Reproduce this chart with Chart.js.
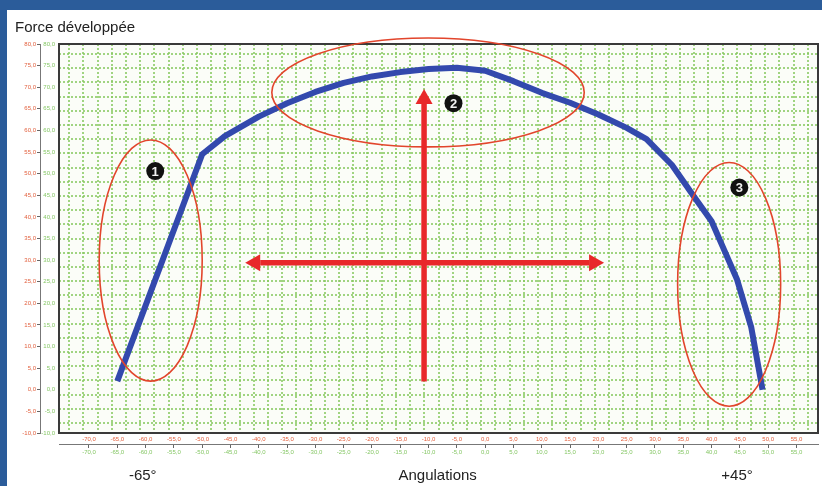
<!DOCTYPE html>
<html><head><meta charset="utf-8">
<script src="https://cdn.jsdelivr.net/npm/chart.js@4/dist/chart.umd.min.js"></script>
<style>html,body{margin:0;padding:0;background:#fff;overflow:hidden}canvas{display:block}</style>
</head><body>
<canvas id="c" width="822" height="486" style="width:822px;height:486px"></canvas>
<script>
// ---- data ----
const angles = [-65, -50, -46, -40, -35, -30, -25, -20, -15, -10, -5, 0, 5, 10, 15, 20, 25, 28.5, 33, 37, 40, 42, 44.5, 47, 49];
const forces = [2, 54.5, 58.7, 63.2, 66.3, 68.9, 71.0, 72.5, 73.5, 74.2, 74.5, 73.8, 71.4, 68.7, 66.4, 63.7, 60.6, 58, 52, 44.5, 39, 33, 25.5, 14.5, 0];
const xTickValues = [-70, -65, -60, -55, -50, -45, -40, -35, -30, -25, -20, -15, -10, -5, 0, 5, 10, 15, 20, 25, 30, 35, 40, 45, 50, 55];
const yTickValues = [-10, -5, 0, 5, 10, 15, 20, 25, 30, 35, 40, 45, 50, 55, 60, 65, 70, 75, 80];
const titleText = 'Force développée';
const bottomLabels = [{text: '-65°', at: -60.5}, {text: 'Angulations', at: -8.4}, {text: '+45°', at: 44.5}];
// annotations (in data units)
const ellipses = [
  {cx: -59.1, cy: 29.9, rx: 9.1, ry: 27.9},
  {cx: -10.1, cy: 68.8, rx: 27.6, ry: 12.6},
  {cx: 43.1, cy: 24.4, rx: 9.1, ry: 28.2}
];
const arrows = [
  {x0: -10.8, y0: 1.9, x1: -10.8, y1: 69.6, headStart: false, headEnd: true},
  {x0: -42.4, y0: 29.4, x1: 21.0, y1: 29.4, headStart: true, headEnd: true}
];
const badges = [{n: '1', x: -58.3, y: 50.6}, {n: '2', x: -5.6, y: 66.3}, {n: '3', x: 44.9, y: 46.8}];

const X_MIN = -75.3, X_MAX = 58.8, Y_MIN = -10, Y_MAX = 80;
const FONT = "'Liberation Sans', Arial, sans-serif";
const RED = '#e2603e', GREEN = '#86c766';
const GRID = 'rgba(135,200,95,0.78)';
const fmt = v => Number(v).toFixed(1).replace('.', ',');
const gridCols = Array.from({length: 53}, (_, i) => i);
const gridRows = Array.from({length: 27}, (_, i) => i);

const framePlugin = {
  id: 'frame',
  beforeDraw(chart) {
    const c = chart.ctx;
    c.save();
    c.fillStyle = '#ffffff';
    c.fillRect(0, 0, chart.width, chart.height);
    c.fillStyle = '#2b5c9a';
    c.fillRect(0, 0, chart.width, 10);
    c.fillRect(0, 0, 7, chart.height);
    const {left, right, top, bottom} = chart.chartArea;
    c.fillStyle = '#fbfdf8';
    c.fillRect(left, top, right - left, bottom - top);
    c.restore();
  },
  beforeDatasetsDraw(chart) {
    const {left, right, top, bottom} = chart.chartArea;
    const c = chart.ctx;
    c.save();
    c.strokeStyle = '#3a3a3a';
    c.lineWidth = 2;
    c.strokeRect(left, top, right - left, bottom - top);
    c.restore();
  },
  afterDatasetsDraw(chart) {
    const c = chart.ctx, xs = chart.scales.x, ys = chart.scales.y;
    const px = v => xs.getPixelForValue(v), py = v => ys.getPixelForValue(v);
    c.save();
    // ellipses
    c.strokeStyle = '#e2452c';
    c.lineWidth = 1.6;
    ellipses.forEach(e => {
      c.beginPath();
      c.ellipse(px(e.cx), py(e.cy), Math.abs(px(e.cx + e.rx) - px(e.cx)), Math.abs(py(e.cy + e.ry) - py(e.cy)), 0, 0, Math.PI * 2);
      c.stroke();
    });
    // arrows
    const HL = 15, HW = 8.5, SW = 5.5;
    c.fillStyle = '#e8282a';
    c.strokeStyle = '#e8282a';
    arrows.forEach(a => {
      const x0 = px(a.x0), y0 = py(a.y0), x1 = px(a.x1), y1 = py(a.y1);
      const len = Math.hypot(x1 - x0, y1 - y0), ux = (x1 - x0) / len, uy = (y1 - y0) / len;
      const sx0 = a.headStart ? x0 + ux * HL : x0, sy0 = a.headStart ? y0 + uy * HL : y0;
      const sx1 = a.headEnd ? x1 - ux * HL : x1, sy1 = a.headEnd ? y1 - uy * HL : y1;
      c.lineWidth = SW;
      c.lineCap = 'butt';
      c.beginPath(); c.moveTo(sx0, sy0); c.lineTo(sx1, sy1); c.stroke();
      const head = (tx, ty, dx, dy) => {
        const bx = tx - dx * HL, by = ty - dy * HL;
        c.beginPath();
        c.moveTo(tx, ty);
        c.lineTo(bx - dy * HW, by + dx * HW);
        c.lineTo(bx + dy * HW, by - dx * HW);
        c.closePath(); c.fill();
      };
      if (a.headEnd) head(x1, y1, ux, uy);
      if (a.headStart) head(x0, y0, -ux, -uy);
    });
    // badges
    badges.forEach(b => {
      const x = px(b.x), y = py(b.y);
      c.fillStyle = '#111';
      c.beginPath(); c.arc(x, y, 9, 0, Math.PI * 2); c.fill();
      c.fillStyle = '#f2f2f2';
      c.font = 'bold 13px ' + FONT;
      c.textAlign = 'center'; c.textBaseline = 'middle';
      c.fillText(b.n, x, y + 1);
    });
    c.restore();
  },
  afterDraw(chart) {
    const c = chart.ctx, xs = chart.scales.x;
    c.save();
    c.fillStyle = '#222';
    c.font = '15px ' + FONT;
    c.textAlign = 'center'; c.textBaseline = 'middle';
    bottomLabels.forEach(l => c.fillText(l.text, xs.getPixelForValue(l.at), 476));
    c.restore();
  }
};

const tickFont = {size: 6, family: FONT};
new Chart(document.getElementById('c'), {
  type: 'line',
  data: {
    datasets: [{
      data: angles.map((a, i) => ({x: a, y: forces[i]})),
      borderColor: '#3349ad',
      borderWidth: 6,
      pointRadius: 0,
      tension: 0,
      fill: false,
      borderJoinStyle: 'round',
      xAxisID: 'x', yAxisID: 'y'
    }]
  },
  options: {
    responsive: false,
    animation: false,
    devicePixelRatio: 1,
    layout: {padding: {left: 15, right: 4, top: 10, bottom: 28}},
    plugins: {
      legend: {display: false},
      tooltip: {enabled: false},
      title: {display: true, text: titleText, align: 'start', color: '#222',
        font: {size: 15, family: FONT, weight: 'normal'}, padding: {top: 9, bottom: 7}}
    },
    scales: {
      x: {
        type: 'linear', position: 'bottom', weight: 0, min: X_MIN, max: X_MAX,
        afterBuildTicks: s => { s.ticks = xTickValues.map(v => ({value: v})); },
        afterFit: s => { s.height = 11; },
        grid: {display: false, drawTicks: false},
        border: {display: true, color: '#333', width: 2},
        ticks: {color: RED, font: tickFont, padding: 3, maxRotation: 0, autoSkip: false, callback: fmt}
      },
      x2: {
        type: 'linear', position: 'bottom', weight: 1, min: X_MIN, max: X_MAX,
        afterBuildTicks: s => { s.ticks = xTickValues.map(v => ({value: v})); },
        afterFit: s => { s.height = 14; },
        grid: {display: true, drawOnChartArea: false, drawTicks: true, tickLength: 4, tickColor: '#666', color: '#666'},
        border: {display: true, color: '#777', width: 1},
        ticks: {color: GREEN, font: tickFont, padding: 1, maxRotation: 0, autoSkip: false, callback: fmt}
      },
      y: {
        type: 'linear', position: 'left', weight: 0, min: Y_MIN, max: Y_MAX,
        afterBuildTicks: s => { s.ticks = yTickValues.map(v => ({value: v})); },
        afterFit: s => { s.width = 19; },
        grid: {display: false, drawTicks: false},
        border: {display: true, color: '#333', width: 2},
        ticks: {color: GREEN, font: tickFont, padding: 4, autoSkip: false, callback: fmt}
      },
      y2: {
        type: 'linear', position: 'left', weight: 1, min: Y_MIN, max: Y_MAX,
        afterBuildTicks: s => { s.ticks = yTickValues.map(v => ({value: v})); },
        afterFit: s => { s.width = 25; },
        grid: {display: true, drawOnChartArea: false, drawTicks: true, tickLength: 3, tickColor: '#666', color: '#666'},
        border: {display: true, color: '#777', width: 1},
        ticks: {color: RED, font: tickFont, padding: 1, autoSkip: false, callback: fmt}
      },
      gx: {
        type: 'linear', position: 'top', min: -0.725, max: 52.725,
        afterBuildTicks: s => { s.ticks = gridCols.map(v => ({value: v})); },
        afterFit: s => { s.height = 0; },
        grid: {display: true, drawTicks: false, color: GRID, lineWidth: 2},
        border: {display: false, dash: [2, 2]},
        ticks: {display: false}
      },
      gy: {
        type: 'linear', position: 'right', min: -0.7, max: 26.7,
        afterBuildTicks: s => { s.ticks = gridRows.map(v => ({value: v})); },
        afterFit: s => { s.width = 0; },
        grid: {display: true, drawTicks: false, color: GRID, lineWidth: 2},
        border: {display: false, dash: [2, 2]},
        ticks: {display: false}
      }
    }
  },
  plugins: [framePlugin]
});
</script>
</body></html>
